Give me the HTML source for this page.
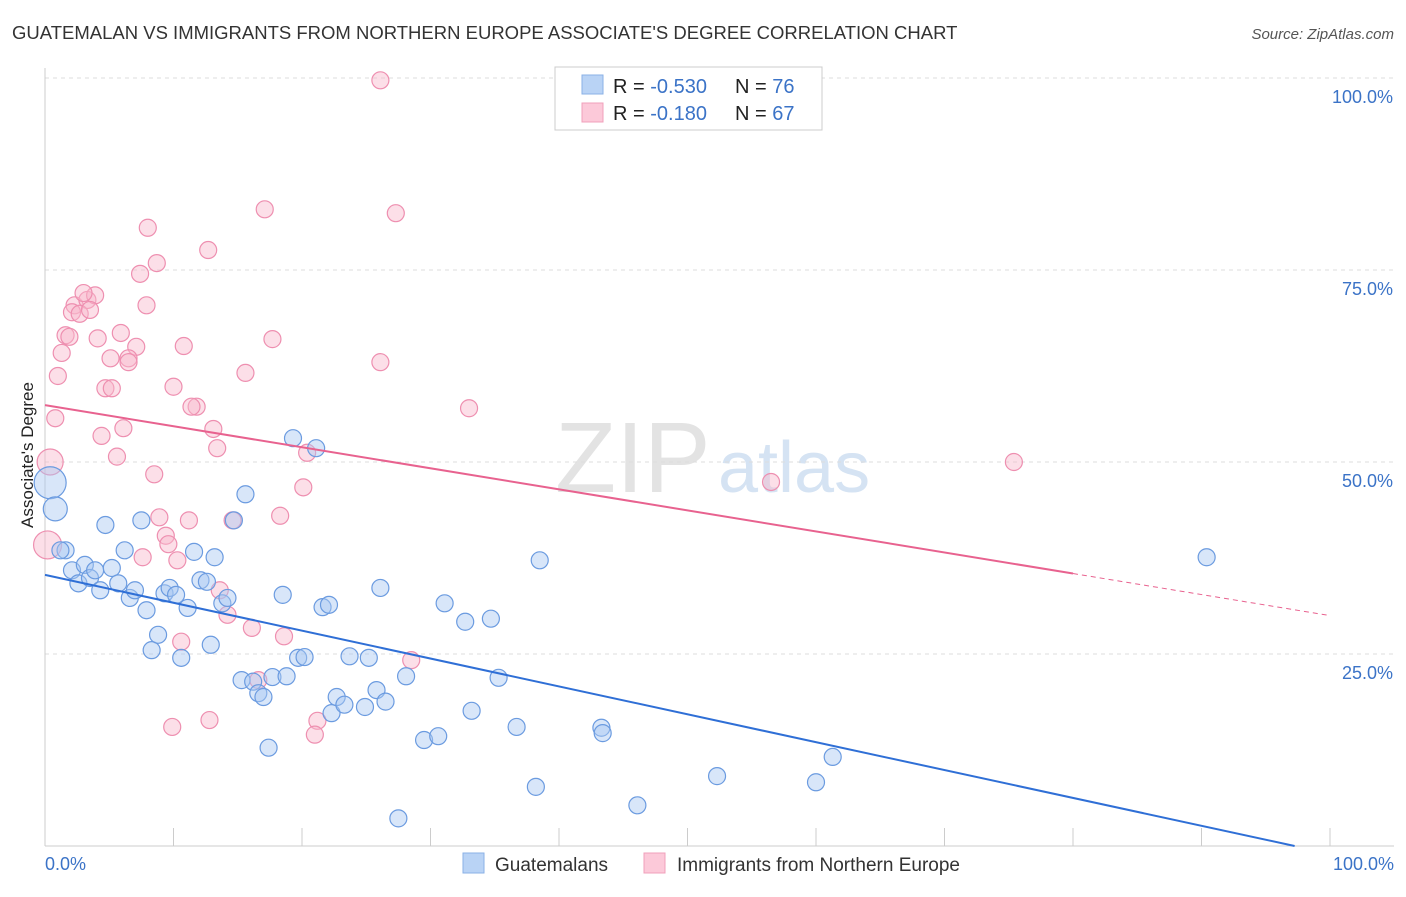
<!DOCTYPE html>
<html><head><meta charset="utf-8"><style>
body{margin:0;background:#fff;font-family:"Liberation Sans",sans-serif;}
svg text{font-family:"Liberation Sans",sans-serif;}
</style></head><body>
<svg id="c" width="1406" height="892" xmlns="http://www.w3.org/2000/svg">
<text x="12" y="39" font-size="18.5" fill="#333">GUATEMALAN VS IMMIGRANTS FROM NORTHERN EUROPE ASSOCIATE'S DEGREE CORRELATION CHART</text>
<text x="1394" y="39" font-size="15" fill="#555" font-style="italic" text-anchor="end">Source: ZipAtlas.com</text>
<text x="33" y="455" font-size="17" fill="#222" text-anchor="middle" transform="rotate(-90 33 455)">Associate's Degree</text>
<text x="555" y="492" font-size="100" fill="#e3e3e3" font-family="Liberation Serif">ZIP</text>
<text x="718" y="492" font-size="72" fill="#d5e3f3">atlas</text>
<g id="grid"></g><g id="pts"></g><g id="lines"></g>
<g>
<rect x="555" y="67" width="267" height="63" fill="#fff" stroke="#ccc"/>
<rect x="582" y="75" width="21" height="19" fill="#b9d3f5" stroke="#8ab0e6"/>
<rect x="582" y="103" width="21" height="19" fill="#fcc9d9" stroke="#f0a0bb"/>
<text x="613" y="93" font-size="20" fill="#222">R = <tspan fill="#3b73c7">-0.530</tspan></text>
<text x="735" y="93" font-size="20" fill="#222">N = <tspan fill="#3b73c7">76</tspan></text>
<text x="613" y="120" font-size="20" fill="#222">R = <tspan fill="#3b73c7"> -0.180</tspan></text>
<text x="735" y="120" font-size="20" fill="#222">N = <tspan fill="#3b73c7">67</tspan></text>
</g>
<g>
<rect x="463" y="853" width="21" height="20" fill="#b9d3f5" stroke="#8ab0e6"/>
<text x="495" y="871" font-size="19" fill="#333">Guatemalans</text>
<rect x="644" y="853" width="21" height="20" fill="#fcc9d9" stroke="#f0a0bb"/>
<text x="677" y="871" font-size="19" fill="#333">Immigrants from Northern Europe</text>
</g>
</svg>
<script>
const xTicks=[0,10,20,30,40,50,60,70,80,90,100];
const yTicks=[25,50,75,100];
const yTickLabels=["25.0%","50.0%","75.0%","100.0%"];
const bluePx=[[50,483,16],[55,509,12],[65,550],[60,550],[72,570],[78,583],[85,565],[90,578],[95,570],[100,590],[105,525],[112,568],[118,583],[125,550],[130,598],[135,590],[141,520],[147,610],[152,650],[158,635],[165,593],[170,588],[176,595],[181,658],[188,608],[194,552],[200,580],[207,582],[211,645],[215,557],[222,603],[228,598],[234,520],[241,680],[246,494],[253,682],[258,693],[263,697],[269,748],[273,677],[283,595],[287,676],[293,438],[298,658],[304,657],[316,448],[323,607],[329,605],[332,713],[337,697],[345,705],[349,656],[365,707],[369,658],[376,690],[380,588],[385,702],[399,818],[406,676],[424,740],[438,736],[445,603],[465,622],[472,711],[491,619],[498,678],[516,727],[536,787],[540,560],[601,728],[603,733],[638,805],[717,776],[816,782],[833,757],[1207,557]];
const pinkPx=[[380,80],[265,209],[396,213],[148,228],[208,250],[157,263],[140,274],[147,305],[75,305],[88,300],[95,295],[83,293],[72,312],[80,314],[90,310],[65,335],[70,337],[62,353],[58,376],[121,333],[98,338],[136,347],[184,346],[272,339],[110,358],[128,358],[129,362],[380,362],[245,373],[173,387],[106,388],[112,388],[55,418],[196,407],[192,407],[469,408],[124,428],[102,436],[213,429],[217,448],[117,457],[307,453],[1014,462],[50,462,13],[154,474],[303,487],[771,482],[232,520],[280,516],[160,517],[189,520],[166,536],[168,544],[143,557],[177,560],[48,545,14],[220,590],[227,615],[252,628],[284,636],[181,642],[411,660],[258,680],[318,721],[315,735],[210,720],[172,727]];
const blueX=bluePx.map(p=>+((p[0]-45)/12.85).toFixed(1));
const blueY=bluePx.map(p=>+((846-p[1])/7.68).toFixed(1));
const pinkX=pinkPx.map(p=>+((p[0]-45)/12.85).toFixed(1));
const pinkY=pinkPx.map(p=>+((846-p[1])/7.68).toFixed(1));
const blueFit=[35.3,-0.363];
const pinkFit=[57.4,-0.274];
const NS="http://www.w3.org/2000/svg";
const X=v=>45+v*12.85, Y=v=>846-v*7.68;
function mk(tag,a,parent){const e=document.createElementNS(NS,tag);for(const k in a)e.setAttribute(k,a[k]);document.getElementById(parent).appendChild(e);return e;}
yTicks.forEach((t,i)=>{
 const l=mk('line',{x1:45,x2:1394,y1:Y(t),y2:Y(t),stroke:'#ddd','stroke-dasharray':'4 4'},'grid');
 
 
 const tx=mk('text',{x:1393,y:Y(t)+25,'font-size':18,fill:'#3b73c7','text-anchor':'end'},'grid');tx.textContent=yTickLabels[i];
 
 
});
const ax=mk('line',{x1:45,x2:1394,y1:846,y2:846,stroke:'#ccc'},'grid');


const ay=mk('line',{x1:45,x2:45,y1:68,y2:846,stroke:'#ccc'},'grid');


xTicks.forEach(t=>{const l=mk('line',{x1:X(t),x2:X(t),y1:828,y2:846,stroke:'#ccc'},'grid');
 
 });
[[0,'0.0%','start',45],[100,'100.0%','end',1394]].forEach(d=>{const t=mk('text',{x:d[3],y:870,'font-size':18,fill:'#3b73c7','text-anchor':d[2]},'grid');t.textContent=d[1];
 
 });
function pts(xs,ys,px,fill,stroke,name){xs.forEach((x,i)=>{const c=mk('circle',{cx:X(x),cy:Y(ys[i]),r:px[i][2]||8.5,fill:fill,'fill-opacity':0.45,stroke:stroke,'stroke-width':1.2},'pts');
 
 });}
pts(pinkX,pinkY,pinkPx,'#f9b8cc','#ee8fb0','point-northern-europe');
pts(blueX,blueY,bluePx,'#a9c8f2','#6b9be0','point-guatemalan');
const bEnd=-blueFit[0]/blueFit[1];
const bl=mk('line',{x1:X(0),y1:Y(blueFit[0]),x2:X(bEnd),y2:Y(0),stroke:'#2f6fd6','stroke-width':2},'lines');


const pl=mk('line',{x1:X(0),y1:Y(pinkFit[0]),x2:X(80),y2:Y(pinkFit[0]+80*pinkFit[1]),stroke:'#e8628f','stroke-width':2},'lines');


const pd=mk('line',{x1:X(80),y1:Y(pinkFit[0]+80*pinkFit[1]),x2:X(100),y2:Y(pinkFit[0]+100*pinkFit[1]),stroke:'#e8628f','stroke-width':1,'stroke-dasharray':'5 4'},'lines');


</script>
</body></html>
